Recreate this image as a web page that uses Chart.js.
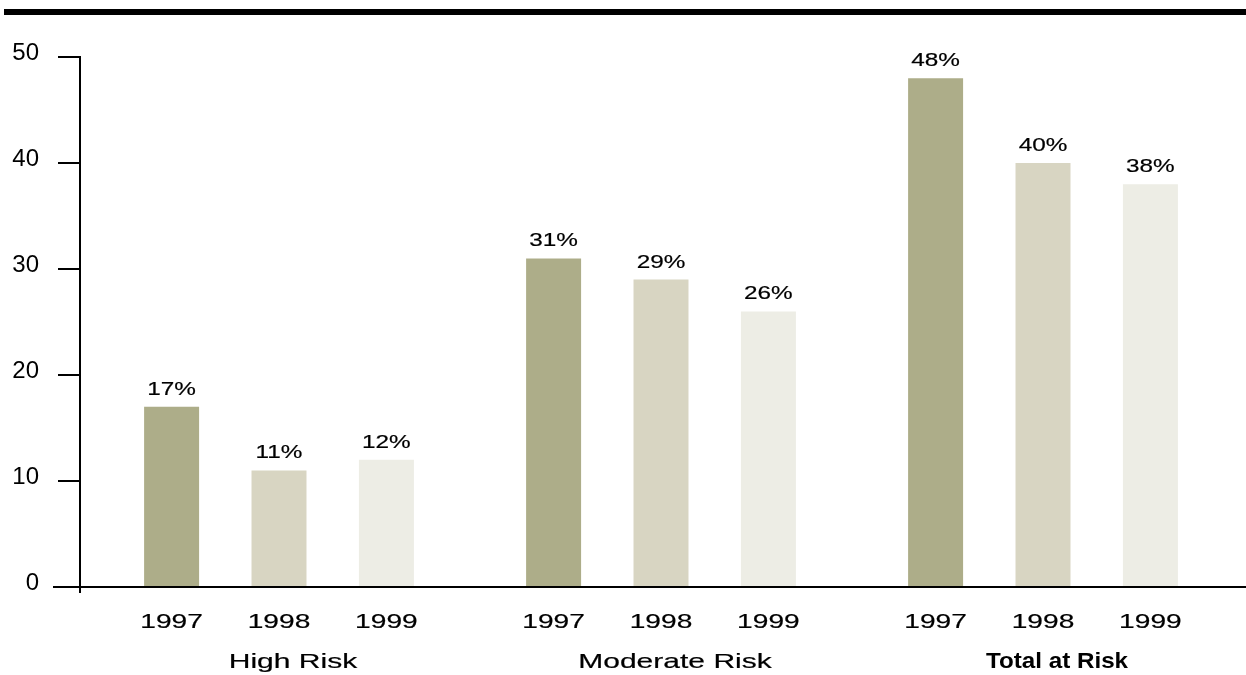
<!DOCTYPE html>
<html>
<head>
<meta charset="utf-8">
<title>Risk by year</title>
<script src="https://cdn.jsdelivr.net/npm/chart.js@4/dist/chart.umd.min.js"></script>
<style>
  html, body { margin: 0; padding: 0; background: #ffffff; }
  #wrap { position: relative; width: 1246px; height: 675px; overflow: hidden; }
  #rule { position: absolute; left: 4px; top: 9px; width: 1242px; height: 6px; background: #000; }
  canvas { position: absolute; left: 0; top: 0; }
</style>
</head>
<body>
<div id="wrap">
  <canvas id="chart" width="1246" height="675"></canvas>
  <div id="rule"></div>
</div>
<script>
// Categories, series and tick values
const groups = ['High Risk', 'Moderate Risk', 'Total at Risk'];
const years = ['1997', '1998', '1999'];
const values1997 = [17, 31, 48];
const values1998 = [11, 29, 40];
const values1999 = [12, 26, 38];
const yTickValues = [0, 10, 20, 30, 40, 50];

const colors = ['#adad89', '#d8d5c2', '#edede5'];
const FONT = '"Liberation Sans", Arial, Helvetica, sans-serif';

// Draw text centred on x, widened horizontally by sx
function wideText(ctx, text, x, y, sx, font, weight) {
  ctx.save();
  ctx.font = font;
  ctx.textAlign = 'center';
  ctx.textBaseline = 'alphabetic';
  ctx.fillStyle = '#000';
  ctx.strokeStyle = '#000';
  ctx.lineWidth = weight;
  ctx.translate(x, y);
  ctx.scale(sx, 1);
  ctx.fillText(text, 0, 0);
  if (weight > 0) ctx.strokeText(text, 0, 0);
  ctx.restore();
}

// Axis frame, tick marks, value labels, year labels and group labels
const decorations = {
  id: 'decorations',
  afterDatasetsDraw(chart) {
    const ctx = chart.ctx;
    const area = chart.chartArea;
    const yScale = chart.scales.y;
    const xScale = chart.scales.x;
    const axisX = area.left - 8;
    const base = yScale.getPixelForValue(0);
    const top = yScale.getPixelForValue(yScale.max);

    ctx.save();
    ctx.strokeStyle = '#000';
    ctx.lineWidth = 2;
    ctx.lineCap = 'butt';
    // vertical axis
    ctx.beginPath();
    ctx.moveTo(axisX, top - 1);
    ctx.lineTo(axisX, base + 6);
    ctx.stroke();
    // horizontal axis
    ctx.beginPath();
    ctx.moveTo(axisX - 27, base);
    ctx.lineTo(chart.width, base);
    ctx.stroke();
    // tick marks
    yScale.ticks.forEach(t => {
      const py = yScale.getPixelForValue(t.value);
      ctx.beginPath();
      ctx.moveTo(axisX - 22, py);
      ctx.lineTo(axisX, py);
      ctx.stroke();
    });
    ctx.restore();

    // per-bar value labels and year labels
    chart.data.datasets.forEach((ds, di) => {
      const meta = chart.getDatasetMeta(di);
      meta.data.forEach((bar, i) => {
        wideText(ctx, ds.data[i] + '%', bar.x, bar.y - 12, 1.28, '19px ' + FONT, 0.2);
        wideText(ctx, years[di], bar.x, 628, 1.34, '21px ' + FONT, 0.2);
      });
    });

    // group labels
    groups.forEach((g, i) => {
      const cx = xScale.getPixelForValue(i) + 14;
      if (i === groups.length - 1) {
        wideText(ctx, g, cx, 668, 1.1, 'bold 22px ' + FONT, 0);
      } else {
        wideText(ctx, g, cx, 668, 1.43, '21px ' + FONT, 0.2);
      }
    });
  }
};

new Chart(document.getElementById('chart'), {
  type: 'bar',
  data: {
    labels: groups,
    datasets: [
      { label: years[0], data: values1997, backgroundColor: colors[0] },
      { label: years[1], data: values1998, backgroundColor: colors[1] },
      { label: years[2], data: values1999, backgroundColor: colors[2] }
    ]
  },
  options: {
    responsive: false,
    devicePixelRatio: 1,
    animation: false,
    events: [],
    layout: { padding: { top: 57, right: 12, bottom: 0, left: 0 } },
    datasets: {
      bar: {
        categoryPercentage: 0.8435,
        barPercentage: 0.512,
        borderWidth: 0
      }
    },
    plugins: {
      legend: { display: false },
      tooltip: { enabled: false },
      title: { display: false }
    },
    scales: {
      x: {
        type: 'category',
        grid: { display: false, drawTicks: false },
        border: { display: false },
        ticks: { display: false },
        afterFit(scale) { scale.height = 88; }
      },
      y: {
        type: 'linear',
        min: yTickValues[0],
        max: yTickValues[yTickValues.length - 1],
        afterBuildTicks(scale) {
          scale.ticks = yTickValues.map(v => ({ value: v }));
        },
        grid: { display: false, drawTicks: false, tickLength: 0 },
        border: { display: false },
        ticks: {
          padding: 49,
          labelOffset: -4,
          color: '#000',
          font: { family: FONT, size: 24 },
          callback: v => String(v)
        },
        afterFit(scale) {
          scale.width = 88;
          scale.paddingTop = 0;
          scale.paddingBottom = 0;
        }
      }
    }
  },
  plugins: [decorations]
});
</script>
</body>
</html>
